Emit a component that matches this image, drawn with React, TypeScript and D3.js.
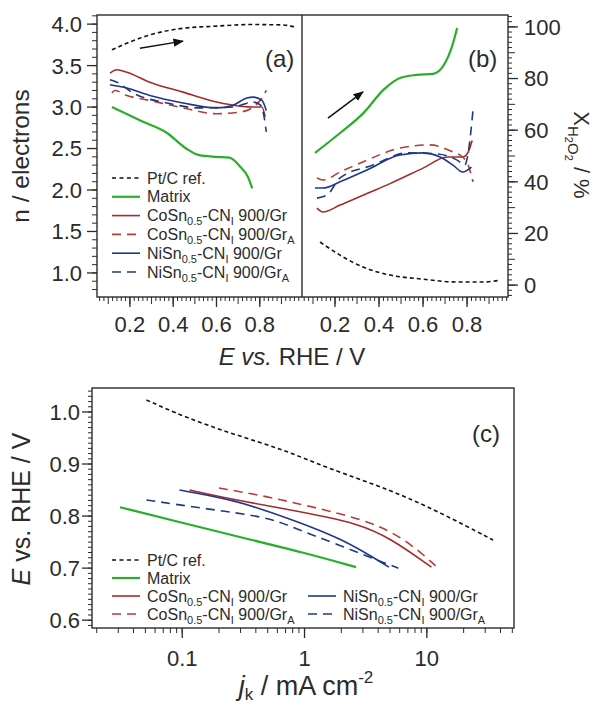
import React from 'react';
import * as d3 from 'd3';

// ---- panel (a): n / electrons vs E ----
const ptA = [[0.117, 3.69], [0.186, 3.77], [0.292, 3.87], [0.445, 3.95], [0.602, 3.976], [0.754, 3.995], [0.906, 3.99], [0.97, 3.96]];
const matrixA = [[0.117, 3.0], [0.246, 2.84], [0.37, 2.69], [0.46, 2.5], [0.52, 2.42], [0.6, 2.4], [0.66, 2.39], [0.71, 2.28], [0.745, 2.16], [0.765, 2.02]];
const coGrA = [[0.108, 3.41], [0.14, 3.45], [0.186, 3.42], [0.292, 3.3], [0.445, 3.18], [0.6, 3.06], [0.71, 3.01], [0.77, 3.0], [0.81, 3.0], [0.825, 2.88]];
const coGrAA = [[0.117, 3.17], [0.13, 3.2], [0.186, 3.14], [0.292, 3.08], [0.445, 2.99], [0.6, 2.92], [0.71, 2.94], [0.77, 3.0], [0.81, 3.11], [0.83, 3.2]];
const niGrA = [[0.108, 3.27], [0.186, 3.23], [0.292, 3.14], [0.445, 3.05], [0.6, 2.99], [0.675, 3.02], [0.74, 3.11], [0.77, 3.12], [0.81, 3.08], [0.83, 2.96]];
const niGrAA = [[0.108, 3.33], [0.14, 3.3], [0.214, 3.17], [0.37, 3.05], [0.52, 2.99], [0.675, 3.0], [0.77, 3.06], [0.805, 3.02], [0.82, 2.88], [0.83, 2.7]];

// ---- panel (b): X_H2O2 / % vs E ----
const ptB = [[0.132, 16.7], [0.223, 11.6], [0.327, 7], [0.45, 3.9], [0.6, 2.3], [0.755, 1.2], [0.87, 1.2], [0.95, 1.9]];
const matrixB = [[0.109, 51.2], [0.223, 58.9], [0.33, 66.7], [0.42, 75.6], [0.495, 80.2], [0.57, 81.4], [0.645, 81.8], [0.7, 86], [0.73, 92], [0.755, 99.6]];
const coGrB = [[0.118, 29.8], [0.145, 28.3], [0.223, 31], [0.345, 35.5], [0.45, 39.3], [0.6, 45.3], [0.71, 49.6], [0.78, 49.6], [0.805, 51.5], [0.823, 56]];
const coGrAB = [[0.118, 41.5], [0.145, 40.7], [0.223, 43.8], [0.345, 48.4], [0.495, 53.1], [0.63, 54.3], [0.735, 51.6], [0.78, 49.6], [0.805, 46.5], [0.827, 40]];
const niGrB = [[0.109, 37.6], [0.145, 37.6], [0.223, 40], [0.345, 44.6], [0.495, 50.4], [0.6, 51.2], [0.677, 49.6], [0.736, 46.5], [0.78, 43.8], [0.82, 45.7]];
const niGrAB = [[0.118, 33.7], [0.164, 34.9], [0.223, 41.5], [0.373, 46.5], [0.527, 51.2], [0.664, 50.8], [0.755, 48.4], [0.79, 46.5], [0.805, 51.2], [0.827, 67.8]];

// ---- panel (c): E vs jk (Tafel) ----
const ptC = [[0.051, 1.023], [0.105, 0.99], [0.27, 0.956], [0.69, 0.927], [1.46, 0.894], [5.1, 0.85], [13.1, 0.806], [34.8, 0.754]];
const matrixC = [[0.031, 0.817], [0.105, 0.786], [0.37, 0.754], [0.945, 0.731], [2.64, 0.702]];
const coGrC = [[0.115, 0.85], [0.27, 0.831], [0.945, 0.808], [2.74, 0.786], [5.1, 0.757], [10.9, 0.702]];
const coGrAC = [[0.2, 0.854], [0.51, 0.837], [0.95, 0.822], [2.74, 0.797], [6.2, 0.763], [12.4, 0.7]];
const niGrC = [[0.095, 0.85], [0.27, 0.831], [0.69, 0.798], [2.0, 0.758], [4.9, 0.702]];
const niGrAC = [[0.051, 0.831], [0.144, 0.815], [0.51, 0.798], [0.78, 0.779], [1.76, 0.748], [4.25, 0.712], [5.85, 0.7]];

const nTicks = [1.0, 1.5, 2.0, 2.5, 3.0, 3.5, 4.0];
const xTicksAB = [0.2, 0.4, 0.6, 0.8];
const pctTicks = [0, 20, 40, 60, 80, 100];
const eTicksC = [0.6, 0.7, 0.8, 0.9, 1.0];
const jTicks = [0.1, 1, 10];

const FONT = 'Liberation Sans, Arial, Helvetica, sans-serif';
const INK = '#2b2b2b';

const styles = {
  pt: { color: '#111', dash: '4,3', width: 1.6 },
  matrix: { color: '#2aae2a', dash: null, width: 2.2 },
  coGr: { color: '#a52b2b', dash: null, width: 1.6 },
  coGrA: { color: '#b83a36', dash: '9,6', width: 1.6 },
  niGr: { color: '#1f3590', dash: null, width: 1.6 },
  niGrA: { color: '#1e3a80', dash: '9,6', width: 1.6 },
};

const sampleLabel = (metal: string, grA: boolean) => (
  <>
    <tspan>{metal}Sn</tspan>
    <tspan dy={4} fontSize={11}>0.5</tspan>
    <tspan dy={-4}>-CN</tspan>
    <tspan dy={4} fontSize={11}>I</tspan>
    <tspan dy={-4}> 900/Gr</tspan>
    {grA ? <tspan dy={4} fontSize={11}>A</tspan> : null}
  </>
);

const legendItems = [
  { key: 'pt', label: <tspan>Pt/C ref.</tspan> },
  { key: 'matrix', label: <tspan>Matrix</tspan> },
  { key: 'coGr', label: sampleLabel('Co', false) },
  { key: 'coGrA', label: sampleLabel('Co', true) },
  { key: 'niGr', label: sampleLabel('Ni', false) },
  { key: 'niGrA', label: sampleLabel('Ni', true) },
];

const LegendRow = ({ x, y, item }: any) => {
  const s = (styles as any)[item.key];
  return (
    <g>
      <line x1={x} x2={x + 28} y1={y} y2={y} stroke={s.color} strokeWidth={s.width}
        strokeDasharray={s.dash ? (item.key === 'pt' ? '4,3.5' : '9,6') : undefined} />
      <text x={x + 35} y={y + 5.5} fontSize={16} fill={INK}>{item.label}</text>
    </g>
  );
};

const Path = ({ data, x, y, k, smooth }: any) => {
  const s = (styles as any)[k];
  const gen = d3.line<number[]>().x((d) => x(d[0])).y((d) => y(d[1]))
    .curve(smooth ? d3.curveBasis : d3.curveMonotoneX);
  return <path d={gen(data) || ''} fill="none" stroke={s.color} strokeWidth={s.width}
    strokeDasharray={s.dash || undefined} strokeLinejoin="round" />;
};

export default function App() {
  // geometry
  const top = 15, bottom = 297, leftA = 97, mid = 302, rightB = 508;
  const xA = d3.scaleLinear().domain([0.048, 0.995]).range([leftA, mid]);
  const xB = d3.scaleLinear().domain([0.05, 0.986]).range([mid, rightB]);
  const yN = d3.scaleLinear().domain([0.71, 4.11]).range([bottom, top]);
  const yP = d3.scaleLinear().domain([-4.6, 104.6]).range([bottom, top]);

  const cTop = 388, cBottom = 628, cLeft = 92, cRight = 514;
  const xJ = d3.scaleLog().domain([0.0183, 51.6]).range([cLeft, cRight]);
  const yE = d3.scaleLinear().domain([0.585, 1.046]).range([cBottom, cTop]);

  const nMinor = d3.range(0.8, 4.11, 0.1);
  const xMinorAB = d3.range(0.06, 1.0, 0.02);
  const pMinor = d3.range(-4, 105, 2);
  const eMinor = d3.range(0.59, 1.046, 0.01);
  const jMinor: number[] = [];
  [0.01, 0.1, 1, 10].forEach((dec) => d3.range(1, 10).forEach((m) => {
    const v = dec * m;
    if (v >= 0.0183 && v <= 51.6) jMinor.push(v);
  }));

  const arrowA = [[0.246, 3.71], [0.445, 3.795]];
  const arrowB = [[0.168, 64.7], [0.327, 74.8]];

  return (
    <svg width={597} height={704} style={{ position: 'absolute', left: 0, top: 0, background: '#fff' }}
      fontFamily={FONT}>
      <defs>
        <marker id="arr" viewBox="0 0 10 10" refX={9} refY={5} markerWidth={7} markerHeight={7} orient="auto">
          <path d="M0,1 L10,5 L0,9 z" fill="#111" />
        </marker>
      </defs>

      {/* ---------- panels (a) and (b) ---------- */}
      <g stroke={INK}>
        {nMinor.map((v) => <line key={'nm' + v} x1={leftA - 5} x2={leftA} y1={yN(v)} y2={yN(v)} strokeWidth={1} />)}
        {nTicks.map((v) => <line key={'nM' + v} x1={leftA - 10} x2={leftA} y1={yN(v)} y2={yN(v)} strokeWidth={1.3} />)}
        {xMinorAB.map((v) => {
          const major = Math.abs(Math.round(v * 10) - v * 10) < 1e-6;
          return (
            <g key={'xm' + v}>
              {v < 0.995 && <line x1={xA(v)} x2={xA(v)} y1={bottom} y2={bottom + (major ? 7 : 4)} strokeWidth={1} />}
              {v < 0.986 && <line x1={xB(v)} x2={xB(v)} y1={bottom} y2={bottom + (major ? 7 : 4)} strokeWidth={1} />}
            </g>
          );
        })}
        {xTicksAB.map((v) => (
          <g key={'xM' + v}>
            <line x1={xA(v)} x2={xA(v)} y1={bottom} y2={bottom + 10} strokeWidth={1.3} />
            <line x1={xB(v)} x2={xB(v)} y1={bottom} y2={bottom + 10} strokeWidth={1.3} />
          </g>
        ))}
        {pMinor.map((v) => {
          const ten = v % 10 === 0;
          return <line key={'pm' + v} x1={rightB} x2={rightB + (ten ? 7 : 4)} y1={yP(v)} y2={yP(v)} strokeWidth={1} />;
        })}
        {pctTicks.map((v) => <line key={'pM' + v} x1={rightB} x2={rightB + 10} y1={yP(v)} y2={yP(v)} strokeWidth={1.3} />)}
      </g>

      <g fontSize={22} fill={INK}>
        {nTicks.map((v) => <text key={'nt' + v} x={82} y={yN(v)} dy="0.36em" textAnchor="end">{v.toFixed(1)}</text>)}
        {xTicksAB.map((v) => (
          <g key={'xt' + v}>
            <text x={xA(v)} y={bottom + 35} textAnchor="middle">{v.toFixed(1)}</text>
            <text x={xB(v)} y={bottom + 35} textAnchor="middle">{v.toFixed(1)}</text>
          </g>
        ))}
        {pctTicks.map((v) => <text key={'pt' + v} x={524} y={yP(v)} dy="0.36em">{v}</text>)}
      </g>

      <Path data={ptA} x={xA} y={yN} k="pt" />
      <Path data={matrixA} x={xA} y={yN} k="matrix" />
      <Path data={coGrA} x={xA} y={yN} k="coGr" />
      <Path data={coGrAA} x={xA} y={yN} k="coGrA" />
      <Path data={niGrA} x={xA} y={yN} k="niGr" />
      <Path data={niGrAA} x={xA} y={yN} k="niGrA" />

      <Path data={ptB} x={xB} y={yP} k="pt" />
      <Path data={matrixB} x={xB} y={yP} k="matrix" />
      <Path data={coGrB} x={xB} y={yP} k="coGr" />
      <Path data={coGrAB} x={xB} y={yP} k="coGrA" />
      <Path data={niGrB} x={xB} y={yP} k="niGr" />
      <Path data={niGrAB} x={xB} y={yP} k="niGrA" />

      <line x1={xA(arrowA[0][0])} y1={yN(arrowA[0][1])} x2={xA(arrowA[1][0])} y2={yN(arrowA[1][1])}
        stroke="#111" strokeWidth={1.5} markerEnd="url(#arr)" />
      <line x1={xB(arrowB[0][0])} y1={yP(arrowB[0][1])} x2={xB(arrowB[1][0])} y2={yP(arrowB[1][1])}
        stroke="#111" strokeWidth={1.5} markerEnd="url(#arr)" />

      <rect x={leftA} y={top} width={rightB - leftA} height={bottom - top} fill="none" stroke={INK} strokeWidth={1.4} />
      <line x1={mid} x2={mid} y1={top} y2={bottom} stroke={INK} strokeWidth={1.4} />

      <text x={265} y={67} fontSize={24} fill={INK}>(a)</text>
      <text x={468} y={67} fontSize={24} fill={INK}>(b)</text>

      {legendItems.map((it, i) => <LegendRow key={it.key} x={112} y={178 + i * 18.8} item={it} />)}

      <text transform="translate(29,156) rotate(-90)" textAnchor="middle" fontSize={24.5} fill={INK}>n / electrons</text>
      <text transform="translate(574,155) rotate(90)" textAnchor="middle" fontSize={22} fill={INK}>
        <tspan>X</tspan>
        <tspan dy={6} fontSize={15}>H</tspan>
        <tspan dy={3} fontSize={11}>2</tspan>
        <tspan dy={-3} fontSize={15}>O</tspan>
        <tspan dy={3} fontSize={11}>2</tspan>
        <tspan dy={-9} fontSize={22}> / %</tspan>
      </text>
      <text x={292} y={365} textAnchor="middle" fontSize={24} fill={INK}>
        <tspan fontStyle="italic">E vs.</tspan><tspan> RHE / V</tspan>
      </text>

      {/* ---------- panel (c) ---------- */}
      <g stroke={INK}>
        {eMinor.map((v) => <line key={'em' + v} x1={cLeft - 4} x2={cLeft} y1={yE(v)} y2={yE(v)} strokeWidth={1} />)}
        {eTicksC.map((v) => <line key={'eM' + v} x1={cLeft - 10} x2={cLeft} y1={yE(v)} y2={yE(v)} strokeWidth={1.3} />)}
        {jMinor.map((v) => <line key={'jm' + v} x1={xJ(v)} x2={xJ(v)} y1={cBottom} y2={cBottom + 5} strokeWidth={1} />)}
        {jTicks.map((v) => <line key={'jM' + v} x1={xJ(v)} x2={xJ(v)} y1={cBottom} y2={cBottom + 10} strokeWidth={1.3} />)}
      </g>
      <g fontSize={22} fill={INK}>
        {eTicksC.map((v) => <text key={'et' + v} x={80} y={yE(v)} dy="0.36em" textAnchor="end">{v.toFixed(1)}</text>)}
        {jTicks.map((v) => <text key={'jt' + v} x={xJ(v)} y={cBottom + 38} textAnchor="middle">{String(v)}</text>)}
      </g>

      <Path data={ptC} x={xJ} y={yE} k="pt" smooth />
      <Path data={matrixC} x={xJ} y={yE} k="matrix" smooth />
      <Path data={coGrC} x={xJ} y={yE} k="coGr" smooth />
      <Path data={coGrAC} x={xJ} y={yE} k="coGrA" smooth />
      <Path data={niGrC} x={xJ} y={yE} k="niGr" smooth />
      <Path data={niGrAC} x={xJ} y={yE} k="niGrA" smooth />

      <rect x={cLeft} y={cTop} width={cRight - cLeft} height={cBottom - cTop} fill="none" stroke={INK} strokeWidth={1.4} />
      <text x={472} y={442} fontSize={24} fill={INK}>(c)</text>

      {legendItems.slice(0, 4).map((it, i) => <LegendRow key={'c' + it.key} x={112} y={560 + i * 18} item={it} />)}
      {legendItems.slice(4).map((it, i) => <LegendRow key={'c' + it.key} x={308} y={596 + i * 18} item={it} />)}

      <text transform="translate(30,509) rotate(-90)" textAnchor="middle" fontSize={25} fill={INK}>
        <tspan fontStyle="italic">E</tspan><tspan> vs. RHE / V</tspan>
      </text>
      <text x={306} y={695} textAnchor="middle" fontSize={27} fill={INK}>
        <tspan fontStyle="italic">j</tspan>
        <tspan dy={5} fontSize={17}>k</tspan>
        <tspan dy={-5}> / mA cm</tspan>
        <tspan dy={-12} fontSize={17}>-2</tspan>
      </text>
    </svg>
  );
}
